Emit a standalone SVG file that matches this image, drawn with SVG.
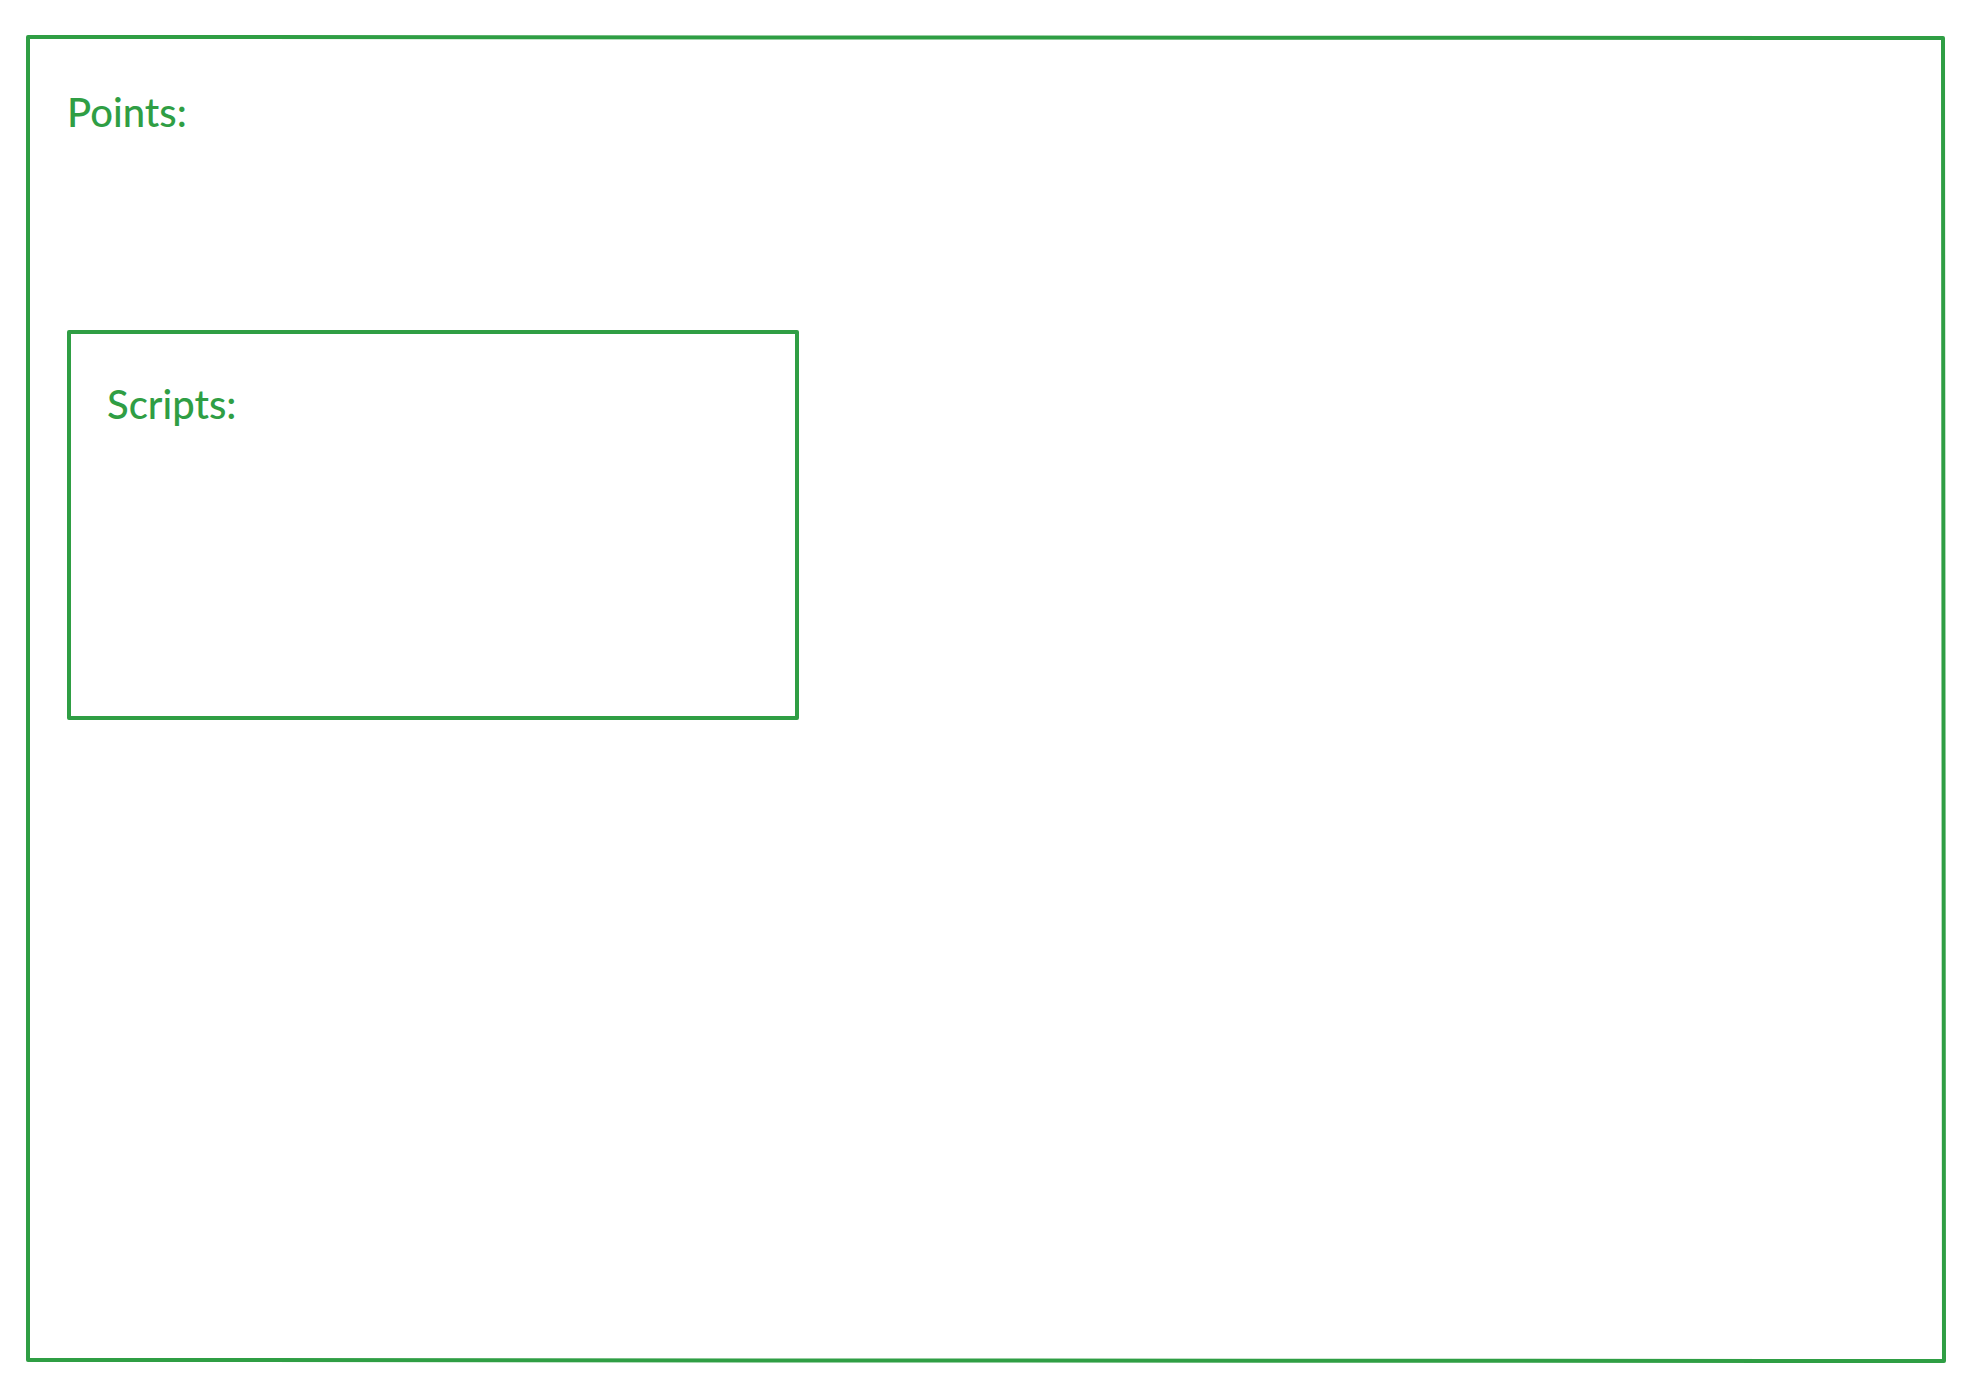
<svg xmlns="http://www.w3.org/2000/svg" width="1988" height="1398" viewBox="0 0 1988 1398">
<style>
.box{fill:none;stroke:#2f9e44;stroke-width:4;stroke-linejoin:round;stroke-linecap:round}
.lbl{font-family:Lato,"Noto Sans","Liberation Sans",sans-serif;font-size:40px;font-weight:500;fill:#2f9e44}
</style>
<rect width="1988" height="1398" fill="#ffffff"/>
<g id="points">
<path class="box" d="M28,37 L1943,38 L1944,1361 L28,1360 Z"/>
<text class="lbl" x="67" y="127">Points:</text>
</g>
<g id="scripts">
<path class="box" d="M69,332 L797,332 L797,718 L69,718 Z"/>
<text class="lbl" x="107" y="419">Scripts:</text>
</g>
<g id="connectors"></g>
</svg>
